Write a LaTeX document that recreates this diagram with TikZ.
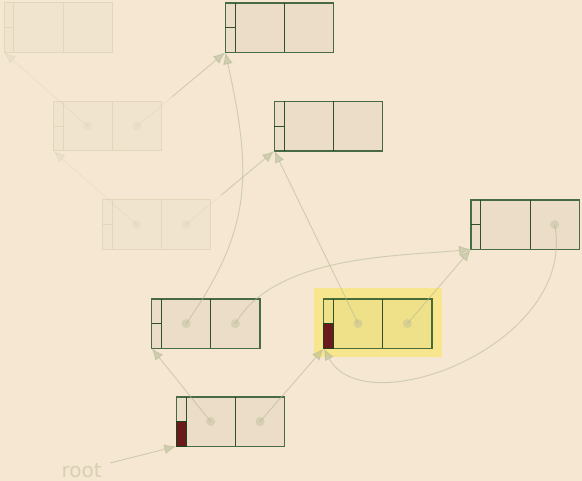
\documentclass[tikz,border=0pt]{standalone}
\usepackage{fontspec}
\setmainfont{DejaVu Sans}
\usetikzlibrary{arrows.meta,calc}
\definecolor{bg}{HTML}{F6E7D3}
\definecolor{nfill}{HTML}{EBDDC8}
\definecolor{dkg}{HTML}{2B572B}
\definecolor{divc}{HTML}{1E401E}
\definecolor{ffill}{HTML}{F1E4CF}
\definecolor{fline}{HTML}{E2D6BB}
\definecolor{hl}{HTML}{F8E68E}
\definecolor{hfill}{HTML}{EFE08A}
\definecolor{edgec}{HTML}{B4BA94}
\definecolor{redc}{HTML}{6A1A1A}
\definecolor{rootc}{HTML}{D7D0B3}
\tikzset{
  rec/.style={draw=dkg, draw opacity=.85, fill=nfill, line width=1.5pt,
    minimum width=108.4pt, minimum height=49.3pt, inner sep=0pt, outer sep=0pt},
  hrec/.style={rec, fill=hfill},
  frec/.style={rec, draw=fline, draw opacity=1, fill=ffill, line width=1pt},
  divline/.style={draw=divc, line width=1.1pt, draw opacity=.9},
  fdivline/.style={draw=fline, line width=1pt},
  redbox/.style={fill=redc, draw=divc, line width=1pt},
  dot/.style={fill=edgec, opacity=.4},
  fdot/.style={fill=edgec, opacity=.12},
  edge/.style={draw=edgec, line width=1pt, opacity=.55, -{Latex[length=12pt,width=10pt]}},
  fedge/.style={draw=edgec, line width=1pt, opacity=.15, -{Latex[length=12pt,width=10pt]}},
  fedgeplain/.style={draw=edgec, line width=1pt, opacity=.15},
}
\newcommand\recnode[4]{%
  \node[#4, anchor=north west] (#1) at (#2,#3) {};
  \coordinate (#1-a) at ($(#1.north west)+(34.4pt,-24.6pt)$);
  \coordinate (#1-b) at ($(#1.north west)+(83.7pt,-24.6pt)$);
}
\newcommand\recdiv[2]{%
  \draw[#2] ($(#1.north west)+(9.8pt,0)$) -- ($(#1.south west)+(9.8pt,0)$)
            ($(#1.north west)+(59.1pt,0)$) -- ($(#1.south west)+(59.1pt,0)$)
            (#1.west) -- ($(#1.west)+(9.8pt,0)$);
}
\newcommand\recred[1]{%
  \filldraw[redbox] (#1.south west) rectangle ($(#1.west)+(9.8pt,0)$);
}
\begin{document}
\begin{tikzpicture}[x=1pt,y=-1pt]
\useasboundingbox[fill=bg] (0,0) rectangle (582,481);
% highlight
\fill[hl] (314,288.3) rectangle (441.7,357.3);
% faded nodes
\recnode{A}{4}{3}{frec}
\recnode{C}{53.3}{101.5}{frec}
\recnode{E}{102.3}{200}{frec}
\recdiv{A}{fdivline}
\recdiv{C}{fdivline}
\recdiv{E}{fdivline}
% normal nodes
\recnode{B}{225.3}{3}{rec}
\recnode{D}{274.3}{101.5}{rec}
\recnode{F}{471}{200}{rec}
\recnode{G}{151.7}{299}{rec}
\recnode{H}{323.7}{299}{hrec}
\recnode{I}{176.3}{397}{rec}
\foreach \n in {B,D,F,G,H,I} {\recdiv{\n}{divline}}
\recred{H}
\recred{I}
% dots
\foreach \p in {I-a,I-b,G-a,G-b,H-a,H-b,F-b} {\fill[dot] (\p) circle (4.5pt);}
\foreach \p in {C-a,C-b,E-a,E-b} {\fill[fdot] (\p) circle (4.5pt);}
% root label
\node[anchor=base west, inner sep=0pt, text=rootc, font=\fontsize{20}{24}\selectfont] (root) at (61.5,477.5) {root};
\coordinate (rs) at (110,463);
% edges
\draw[edge] (rs) -- (I.south west);
\draw[edge] (I-a) -- (G.south west);
\draw[edge] (I-b) -- (H.south west);
\draw[edge] (H-a) -- (D.south west);
\draw[edge] (H-b) -- (F.south west);
\draw[edge] (G-a) .. controls +(66,-94) and +(27,122) .. (B.south west);
\draw[edge] (G-b) .. controls +(40,-69) and +(-71,7) .. (F.south west);
\draw[edge] (F-b) .. controls +(23,120) and +(41,77) .. (H.south west);
% faded edges
\draw[fedge] (C-a) -- (A.south west);
\draw[fedge] (E-a) -- (C.south west);
\coordinate (cbm) at ($(C-b)!0.4!(B.south west)$);
\coordinate (ebm) at ($(E-b)!0.4!(D.south west)$);
\draw[fedgeplain] (C-b) -- (cbm);
\draw[edge] (cbm) -- (B.south west);
\draw[fedgeplain] (E-b) -- (ebm);
\draw[edge] (ebm) -- (D.south west);
\end{tikzpicture}
\end{document}
